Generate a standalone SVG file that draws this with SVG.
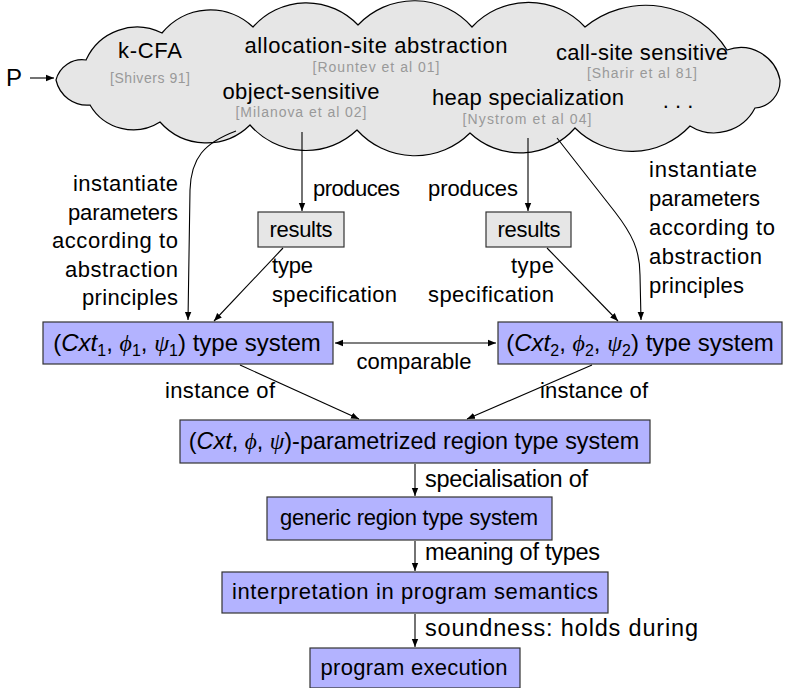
<svg xmlns="http://www.w3.org/2000/svg" width="786" height="688" viewBox="0 0 786 688">
<defs>
<marker id="ah" markerUnits="userSpaceOnUse" markerWidth="10" markerHeight="8" refX="8" refY="4" orient="auto-start-reverse">
<path d="M0,0.8 L8,4 L0,7.2 Z" fill="#000"/>
</marker>
<style>
text{font-family:"Liberation Sans",Arial,sans-serif;fill:#000}
.big{font-size:22px;text-anchor:middle}
.cite{font-size:14px;fill:#999;text-anchor:middle}
.lbl{font-size:22px}
.lbl2{font-size:23.5px}
.box{fill:#b3b3ff;stroke:#333;stroke-width:1.2}
.res{fill:#e6e6e6;stroke:#333;stroke-width:1.2}
.bt{font-size:22px;text-anchor:middle}
.conn path,.conn line{fill:none;stroke:#000;stroke-width:1.1}
.m{font-family:"Liberation Serif","Times New Roman",serif;font-style:italic}
.it{font-style:italic}
</style>
</defs>

<g id="cloud">
<path d="M56,80 A27,27 0 0 1 86,60 A56,56 0 0 1 162,33 A62,62 0 0 1 253,27 A71,71 0 0 1 358,25 A77,77 0 0 1 472,27 A77,77 0 0 1 585,27 A96,96 0 0 1 727,50 A40,40 0 0 1 780,80 A27,27 0 0 1 755,108 A46,46 0 0 1 690,126 A80,80 0 0 1 575,128 A73,73 0 0 1 470,133 A78,78 0 0 1 357,130 A74,74 0 0 1 250,125 A62,62 0 0 1 160,122 A50,50 0 0 1 90,105 A32,32 0 0 1 56,80 Z" fill="#e6e6e6" stroke="#000" stroke-width="1.2"/>
<text class="big" x="150" y="58" textLength="64">k-CFA</text>
<text class="cite" x="150" y="83" textLength="80">[Shivers 91]</text>
<text class="big" x="376" y="53" textLength="263">allocation-site abstraction</text>
<text class="cite" x="376" y="72" textLength="127">[Rountev et al 01]</text>
<text class="big" x="642" y="60" textLength="172">call-site sensitive</text>
<text class="cite" x="642" y="78" textLength="110">[Sharir et al 81]</text>
<text class="big" x="301" y="99" textLength="157">object-sensitive</text>
<text class="cite" x="301" y="117" textLength="131">[Milanova et al 02]</text>
<text class="big" x="528" y="105" textLength="192">heap specialization</text>
<text class="cite" x="527" y="124" textLength="129">[Nystrom et al 04]</text>
<text class="big" x="678" y="108">. . .</text>
</g>

<g id="P">
<text x="6" y="86" style="font-size:24px">P</text>
</g>

<g id="results1">
<rect class="res" x="258" y="212" width="86" height="35"/>
<text class="bt" x="301" y="237" textLength="63">results</text>
</g>
<g id="results2">
<rect class="res" x="486" y="212" width="85" height="35"/>
<text class="bt" x="529" y="237" textLength="63">results</text>
</g>

<g id="ts1">
<rect class="box" x="43" y="322" width="290" height="42"/>
<text x="187" y="351" class="bt" style="font-size:24px">(<tspan class="it">Cxt</tspan><tspan font-size="16" dy="5">1</tspan><tspan dy="-5">, </tspan><tspan class="m">ϕ</tspan><tspan font-size="16" dy="5">1</tspan><tspan dy="-5">, </tspan><tspan class="m">ψ</tspan><tspan font-size="16" dy="5">1</tspan><tspan dy="-5">) type system</tspan></text>
</g>
<g id="ts2">
<rect class="box" x="498" y="322" width="284" height="42"/>
<text x="640" y="351" class="bt" style="font-size:24px">(<tspan class="it">Cxt</tspan><tspan font-size="16" dy="5">2</tspan><tspan dy="-5">, </tspan><tspan class="m">ϕ</tspan><tspan font-size="16" dy="5">2</tspan><tspan dy="-5">, </tspan><tspan class="m">ψ</tspan><tspan font-size="16" dy="5">2</tspan><tspan dy="-5">) type system</tspan></text>
</g>
<g id="param">
<rect class="box" x="180" y="420" width="470" height="43"/>
<text x="414" y="449" class="bt" style="font-size:23.4px">(<tspan class="it">Cxt</tspan>, <tspan class="m">ϕ</tspan>, <tspan class="m">ψ</tspan>)-parametrized region type system</text>
</g>
<g id="generic">
<rect class="box" x="267" y="497" width="285" height="43"/>
<text x="409" y="525" class="bt" textLength="258">generic region type system</text>
</g>
<g id="interp">
<rect class="box" x="222" y="572" width="386" height="41"/>
<text x="415" y="599" class="bt" textLength="366">interpretation in program semantics</text>
</g>
<g id="exec">
<rect class="box" x="310" y="648" width="210" height="40"/>
<text x="414" y="675" class="bt" textLength="187">program execution</text>
</g>

<g class="conn" id="connectors">
<line x1="30" y1="78" x2="54" y2="78" marker-end="url(#ah)"/>
<path d="M236,131 C204,143 191,158 190,190 L188,320" marker-end="url(#ah)"/>
<path d="M557,138 L615,212 C632,234 640,250 640,275 L641,320" marker-end="url(#ah)"/>
<line x1="302" y1="132" x2="302" y2="211" marker-end="url(#ah)"/>
<line x1="528" y1="138" x2="528" y2="211" marker-end="url(#ah)"/>
<line x1="283" y1="248" x2="214" y2="321" marker-end="url(#ah)"/>
<line x1="547" y1="248" x2="618" y2="321" marker-end="url(#ah)"/>
<line x1="335" y1="343" x2="496" y2="343" marker-start="url(#ah)" marker-end="url(#ah)"/>
<line x1="240" y1="365" x2="359" y2="419" marker-end="url(#ah)"/>
<line x1="592" y1="365" x2="467" y2="419" marker-end="url(#ah)"/>
<line x1="415" y1="464" x2="415" y2="496" marker-end="url(#ah)"/>
<line x1="415" y1="541" x2="415" y2="571" marker-end="url(#ah)"/>
<line x1="415" y1="614" x2="415" y2="647" marker-end="url(#ah)"/>
<g id="labels">
<text class="lbl" x="178" y="191" text-anchor="end" textLength="105">instantiate</text>
<text class="lbl" x="178" y="220" text-anchor="end" textLength="110">parameters</text>
<text class="lbl" x="178" y="248" text-anchor="end" textLength="126">according to</text>
<text class="lbl" x="178" y="277" text-anchor="end" textLength="113">abstraction</text>
<text class="lbl" x="178" y="305" text-anchor="end" textLength="96">principles</text>
<text class="lbl" x="649" y="177" textLength="108">instantiate</text>
<text class="lbl" x="649" y="206" textLength="111">parameters</text>
<text class="lbl" x="649" y="235" textLength="126">according to</text>
<text class="lbl" x="649" y="264" textLength="113">abstraction</text>
<text class="lbl" x="649" y="293" textLength="95">principles</text>
<text class="lbl" x="313" y="196" textLength="87">produces</text>
<text class="lbl" x="428" y="196" textLength="90">produces</text>
<text class="lbl" x="272" y="273" textLength="41">type</text>
<text class="lbl" x="272" y="302" textLength="125">specification</text>
<text class="lbl" x="554" y="273" text-anchor="end" textLength="43">type</text>
<text class="lbl" x="554" y="302" text-anchor="end" textLength="126">specification</text>
<text class="lbl" x="414" y="369" text-anchor="middle" textLength="115">comparable</text>
<text class="lbl" x="165" y="398" textLength="110">instance of</text>
<text class="lbl" x="540" y="398" textLength="108">instance of</text>
<text class="lbl2" x="425" y="487" textLength="163">specialisation of</text>
<text class="lbl2" x="425" y="560" textLength="175">meaning of types</text>
<text class="lbl2" x="425" y="636" textLength="273">soundness: holds during</text>
</g>
</g>
</svg>
